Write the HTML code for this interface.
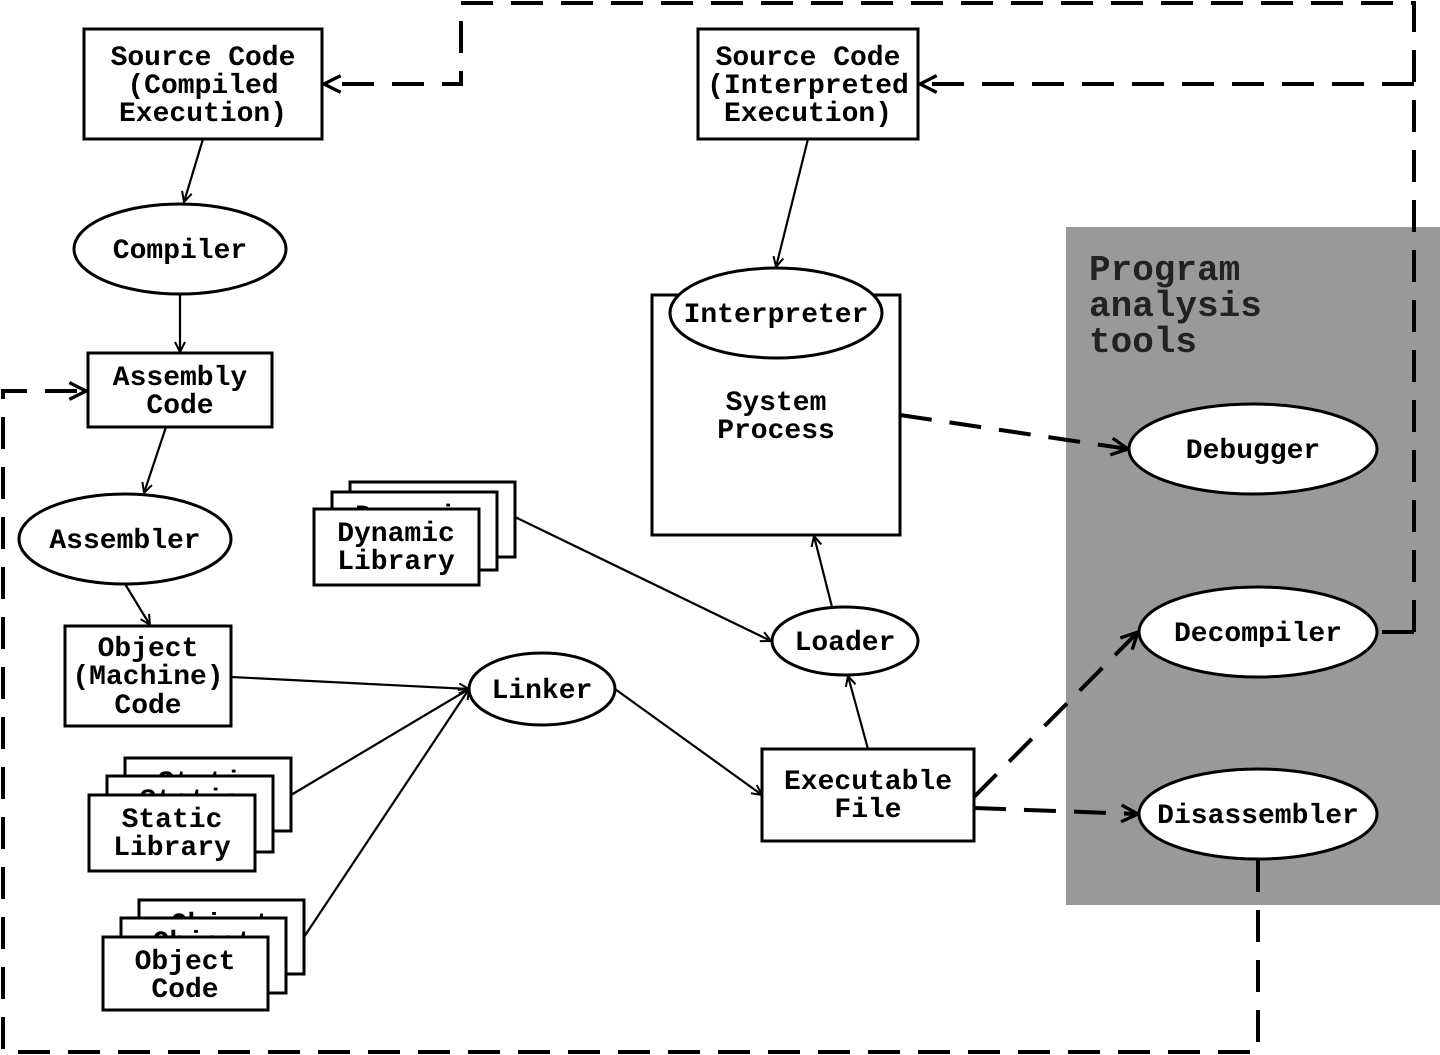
<!DOCTYPE html>
<html><head><meta charset="utf-8"><style>
html,body{margin:0;padding:0;background:#fff;}
svg{display:block;}
text{font-family:"Liberation Mono",monospace;font-weight:bold;font-size:28px;fill:#000;text-anchor:middle;}
</style></head><body>
<svg width="1440" height="1055" viewBox="0 0 1440 1055" xmlns="http://www.w3.org/2000/svg">
<defs>
<marker id="a" viewBox="0 0 12 12" refX="11" refY="6" markerWidth="12" markerHeight="12" markerUnits="userSpaceOnUse" orient="auto">
<path d="M1,1 L11,6 L1,11" fill="none" stroke="#000" stroke-width="2"/></marker>
<marker id="b" viewBox="0 0 12 12" refX="11" refY="6" markerWidth="20" markerHeight="20" markerUnits="userSpaceOnUse" orient="auto">
<path d="M1,1 L11,6 L1,11" fill="none" stroke="#000" stroke-width="2"/></marker>
</defs>
<rect x="1066" y="227" width="374" height="678" fill="#999"/>
<text x="1089" y="280" style="font-size:36px;text-anchor:start;fill:#222">Program</text>
<text x="1089" y="316" style="font-size:36px;text-anchor:start;fill:#222">analysis</text>
<text x="1089" y="352" style="font-size:36px;text-anchor:start;fill:#222">tools</text>

<g fill="none" stroke="#000" stroke-width="4" stroke-dasharray="32 18">
<path d="M1414,632 L1414,3 L461,3 L461,84 L324,84" marker-end="url(#b)"/>
<path d="M1414,84 L920,84" marker-end="url(#b)"/>
<path d="M1414,632 L1378,632"/>
<path d="M1258,860 L1258,1052 L3,1052 L3,391 L86,391" marker-end="url(#b)"/>
<path d="M900,415 L1128,449" marker-end="url(#b)"/>
<path d="M974,797 L1138,632" marker-end="url(#b)"/>
<path d="M974,808 L1138,814" marker-end="url(#b)"/>
</g>

<g fill="none" stroke="#000" stroke-width="2.2">
<line x1="203" y1="139" x2="184" y2="202" marker-end="url(#a)"/>
<line x1="180" y1="295" x2="180" y2="352" marker-end="url(#a)"/>
<line x1="166" y1="427" x2="144" y2="493" marker-end="url(#a)"/>
<line x1="125" y1="584" x2="150" y2="625" marker-end="url(#a)"/>
<line x1="231" y1="677" x2="469" y2="689" marker-end="url(#a)"/>
<line x1="291" y1="795" x2="469" y2="689" marker-end="url(#a)"/>
<line x1="304" y1="937" x2="469" y2="689" marker-end="url(#a)"/>
<line x1="615" y1="689" x2="762" y2="795" marker-end="url(#a)"/>
<line x1="515" y1="517" x2="771" y2="641" marker-end="url(#a)"/>
<line x1="868" y1="749" x2="848" y2="676" marker-end="url(#a)"/>
<line x1="832" y1="607" x2="814" y2="536" marker-end="url(#a)"/>
<line x1="808" y1="139" x2="776" y2="267" marker-end="url(#a)"/>
</g>

<g fill="#fff" stroke="#000" stroke-width="3">
<rect x="84" y="29" width="238" height="110"/>
<rect x="698" y="29" width="220" height="110"/>
<ellipse cx="180" cy="249" rx="106" ry="45"/>
<rect x="88" y="353" width="184" height="74"/>
<ellipse cx="125" cy="539" rx="106" ry="45"/>
<rect x="65" y="626" width="166" height="100"/>
</g>
<g fill="#fff" stroke="#000" stroke-width="3">
<rect x="125" y="758" width="166" height="73"/>
</g>
<text x="208" y="790">Static</text>
<rect x="107" y="776" width="166" height="76" fill="#fff" stroke="#000" stroke-width="3"/>
<text x="190" y="808">Static</text>
<rect x="89" y="795" width="166" height="76" fill="#fff" stroke="#000" stroke-width="3"/>

<rect x="139" y="900" width="165" height="74" fill="#fff" stroke="#000" stroke-width="3"/>
<text x="221" y="932">Object</text>
<rect x="121" y="918" width="165" height="75" fill="#fff" stroke="#000" stroke-width="3"/>
<text x="203" y="950">Object</text>
<rect x="103" y="937" width="165" height="73" fill="#fff" stroke="#000" stroke-width="3"/>

<rect x="350" y="482" width="165" height="75" fill="#fff" stroke="#000" stroke-width="3"/>
<rect x="332" y="492" width="165" height="78" fill="#fff" stroke="#000" stroke-width="3"/>
<text x="414" y="524">Dynamic</text>
<rect x="314" y="509" width="165" height="76" fill="#fff" stroke="#000" stroke-width="3"/>

<g fill="#fff" stroke="#000" stroke-width="3">
<ellipse cx="542" cy="689" rx="73" ry="36"/>
<ellipse cx="845" cy="641" rx="73" ry="34"/>
<rect x="762" y="749" width="212" height="92"/>
<rect x="652" y="295" width="248" height="240"/>
<ellipse cx="776" cy="313" rx="106" ry="45"/>
<ellipse cx="1253" cy="449" rx="124" ry="45"/>
<ellipse cx="1258" cy="632" rx="119" ry="45"/>
<ellipse cx="1258" cy="814" rx="119" ry="45"/>
</g>

<text x="203" y="65">Source Code</text>
<text x="203" y="93">(Compiled</text>
<text x="203" y="121">Execution)</text>
<text x="808" y="65">Source Code</text>
<text x="808" y="93">(Interpreted</text>
<text x="808" y="121">Execution)</text>
<text x="180" y="258">Compiler</text>
<text x="180" y="385">Assembly</text>
<text x="180" y="413">Code</text>
<text x="125" y="548">Assembler</text>
<text x="148" y="656">Object</text>
<text x="148" y="684">(Machine)</text>
<text x="148" y="713">Code</text>
<text x="172" y="827">Static</text>
<text x="172" y="855">Library</text>
<text x="185" y="969">Object</text>
<text x="185" y="997">Code</text>
<text x="396" y="541">Dynamic</text>
<text x="396" y="569">Library</text>
<text x="542" y="698">Linker</text>
<text x="845" y="650">Loader</text>
<text x="868" y="789">Executable</text>
<text x="868" y="817">File</text>
<text x="776" y="322">Interpreter</text>
<text x="776" y="410">System</text>
<text x="776" y="438">Process</text>
<text x="1253" y="458">Debugger</text>
<text x="1258" y="641">Decompiler</text>
<text x="1258" y="823">Disassembler</text>
</svg>
</body></html>
